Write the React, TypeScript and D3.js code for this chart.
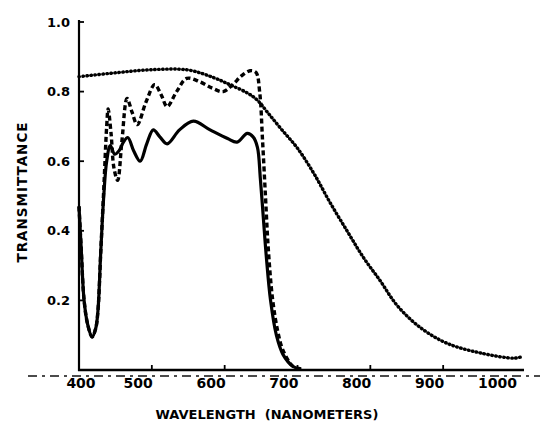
import React from 'react'
import * as d3 from 'd3'

const WIDTH = 542
const HEIGHT = 425

// wavelength (nm) tick labels and transmittance ticks
const wavelengthTicks = [400, 500, 600, 700, 800, 900, 1000]
const transmittanceTicks = [0.2, 0.4, 0.6, 0.8, 1.0]

// dotted curve: broad band, slow fall-off into the near infrared
const dottedWl = [400, 450, 500, 550, 585, 608, 632, 645, 659, 677, 700, 723, 745, 768, 790, 814, 837, 868, 905, 951, 997, 1008]
const dottedT = [0.843, 0.854, 0.863, 0.862, 0.84, 0.819, 0.795, 0.775, 0.74, 0.694, 0.637, 0.563, 0.48, 0.4, 0.325, 0.255, 0.185, 0.123, 0.077, 0.049, 0.034, 0.038]

// dashed curve
const dashedWl = [400, 403, 407, 412, 418, 423, 426, 430, 434, 438, 440, 444, 448, 453, 459, 466, 473, 480, 492, 504, 513, 521, 534, 548, 566, 583, 598, 611, 623, 635, 643, 648, 652, 656, 660, 666, 673, 680, 694, 705]
const dashedT = [0.47, 0.35, 0.2, 0.13, 0.095, 0.12, 0.17, 0.345, 0.52, 0.7, 0.75, 0.68, 0.58, 0.545, 0.66, 0.78, 0.74, 0.705, 0.77, 0.82, 0.79, 0.757, 0.8, 0.838, 0.828, 0.81, 0.8, 0.82, 0.845, 0.86, 0.855, 0.8, 0.66, 0.5, 0.345, 0.2, 0.11, 0.057, 0.01, 0.003]

// solid curve
const solidWl = [400, 403, 407, 412, 418, 423, 426, 430, 434, 438, 443, 449, 455, 461, 467, 475, 484, 493, 502, 511, 521, 538, 557, 580, 604, 617, 631, 639, 645, 649, 653, 657, 663, 671, 680, 694, 705]
const solidT = [0.47, 0.35, 0.2, 0.13, 0.095, 0.12, 0.17, 0.345, 0.5, 0.6, 0.645, 0.62, 0.63, 0.655, 0.668, 0.63, 0.6, 0.65, 0.69, 0.67, 0.65, 0.69, 0.715, 0.69, 0.665, 0.655, 0.68, 0.67, 0.64, 0.55, 0.44, 0.33, 0.2, 0.1, 0.045, 0.01, 0.002]

const FONT = '"DejaVu Sans", sans-serif'

export default function App() {
  const x = d3.scaleLinear().domain([400, 1000]).range([79, 516])
  const y = d3.scaleLinear().domain([0, 1]).range([370, 22])

  const line = d3.line<[number, number]>()
    .x(d => x(d[0]))
    .y(d => y(d[1]))
    .curve(d3.curveCatmullRom.alpha(0.5))

  const zip = (a: number[], b: number[]) => a.map((v, i) => [v, b[i]] as [number, number])

  const x0 = x(400)
  const y0 = y(0)

  return (
    <svg width={WIDTH} height={HEIGHT} style={{ position: 'absolute', left: 0, top: 0, background: '#fff' }}>
      {/* faint dash-dot rule under the axis */}
      <line x1={28} x2={540} y1={y0 + 6} y2={y0 + 6} stroke="#111" strokeWidth={1.3} strokeDasharray="9 5 3 5" />

      {/* axes */}
      <line x1={x0} x2={x0} y1={y(1) - 2} y2={y0 + 1} stroke="#000" strokeWidth={2.2} />
      <line x1={x0 - 1} x2={x(1011)} y1={y0} y2={y0} stroke="#000" strokeWidth={2.6} />
      {transmittanceTicks.map(t => (
        <line key={t} x1={x0} x2={x0 + 5} y1={y(t)} y2={y(t)} stroke="#000" strokeWidth={1.8} />
      ))}
      {wavelengthTicks.slice(1, -1).map(w => (
        <line key={w} x1={x(w)} x2={x(w)} y1={y0} y2={y0 - 5} stroke="#000" strokeWidth={1.8} />
      ))}

      {/* curves */}
      <path d={line(zip(solidWl, solidT)) || ''} fill="none" stroke="#000" strokeWidth={3.2} strokeLinejoin="round" />
      <path d={line(zip(dashedWl, dashedT)) || ''} fill="none" stroke="#000" strokeWidth={3.4} strokeDasharray="5 3" />
      <path d={line(zip(dottedWl, dottedT)) || ''} fill="none" stroke="#000" strokeWidth={3.4} strokeDasharray="0.6 3.4" strokeLinecap="round" />

      {/* y tick labels */}
      {transmittanceTicks.map(t => (
        <text key={t} x={70} y={y(t)} dy="0.36em" textAnchor="end" fontFamily={FONT} fontWeight={700} fontSize={13} fill="#000">
          {t.toFixed(1)}
        </text>
      ))}

      {/* x tick labels */}
      {wavelengthTicks.map((w, i) => (
        <text key={w} x={i === 0 ? x(w) + 2 : x(w) + 1} y={388} textAnchor={i === 0 ? 'middle' : 'end'}
          fontFamily={FONT} fontWeight={700} fontSize={14} fill="#000">
          {w}
        </text>
      ))}

      {/* axis titles */}
      <text transform="translate(27,192) rotate(-90)" textAnchor="middle" fontFamily={FONT} fontWeight={700}
        fontSize={13.5} letterSpacing={1} fill="#000">
        TRANSMITTANCE
      </text>
      <text x={267} y={419} textAnchor="middle" fontFamily={FONT} fontWeight={700} fontSize={13}
        style={{ whiteSpace: 'pre' }} fill="#000">
        {'WAVELENGTH  (NANOMETERS)'}
      </text>
    </svg>
  )
}
